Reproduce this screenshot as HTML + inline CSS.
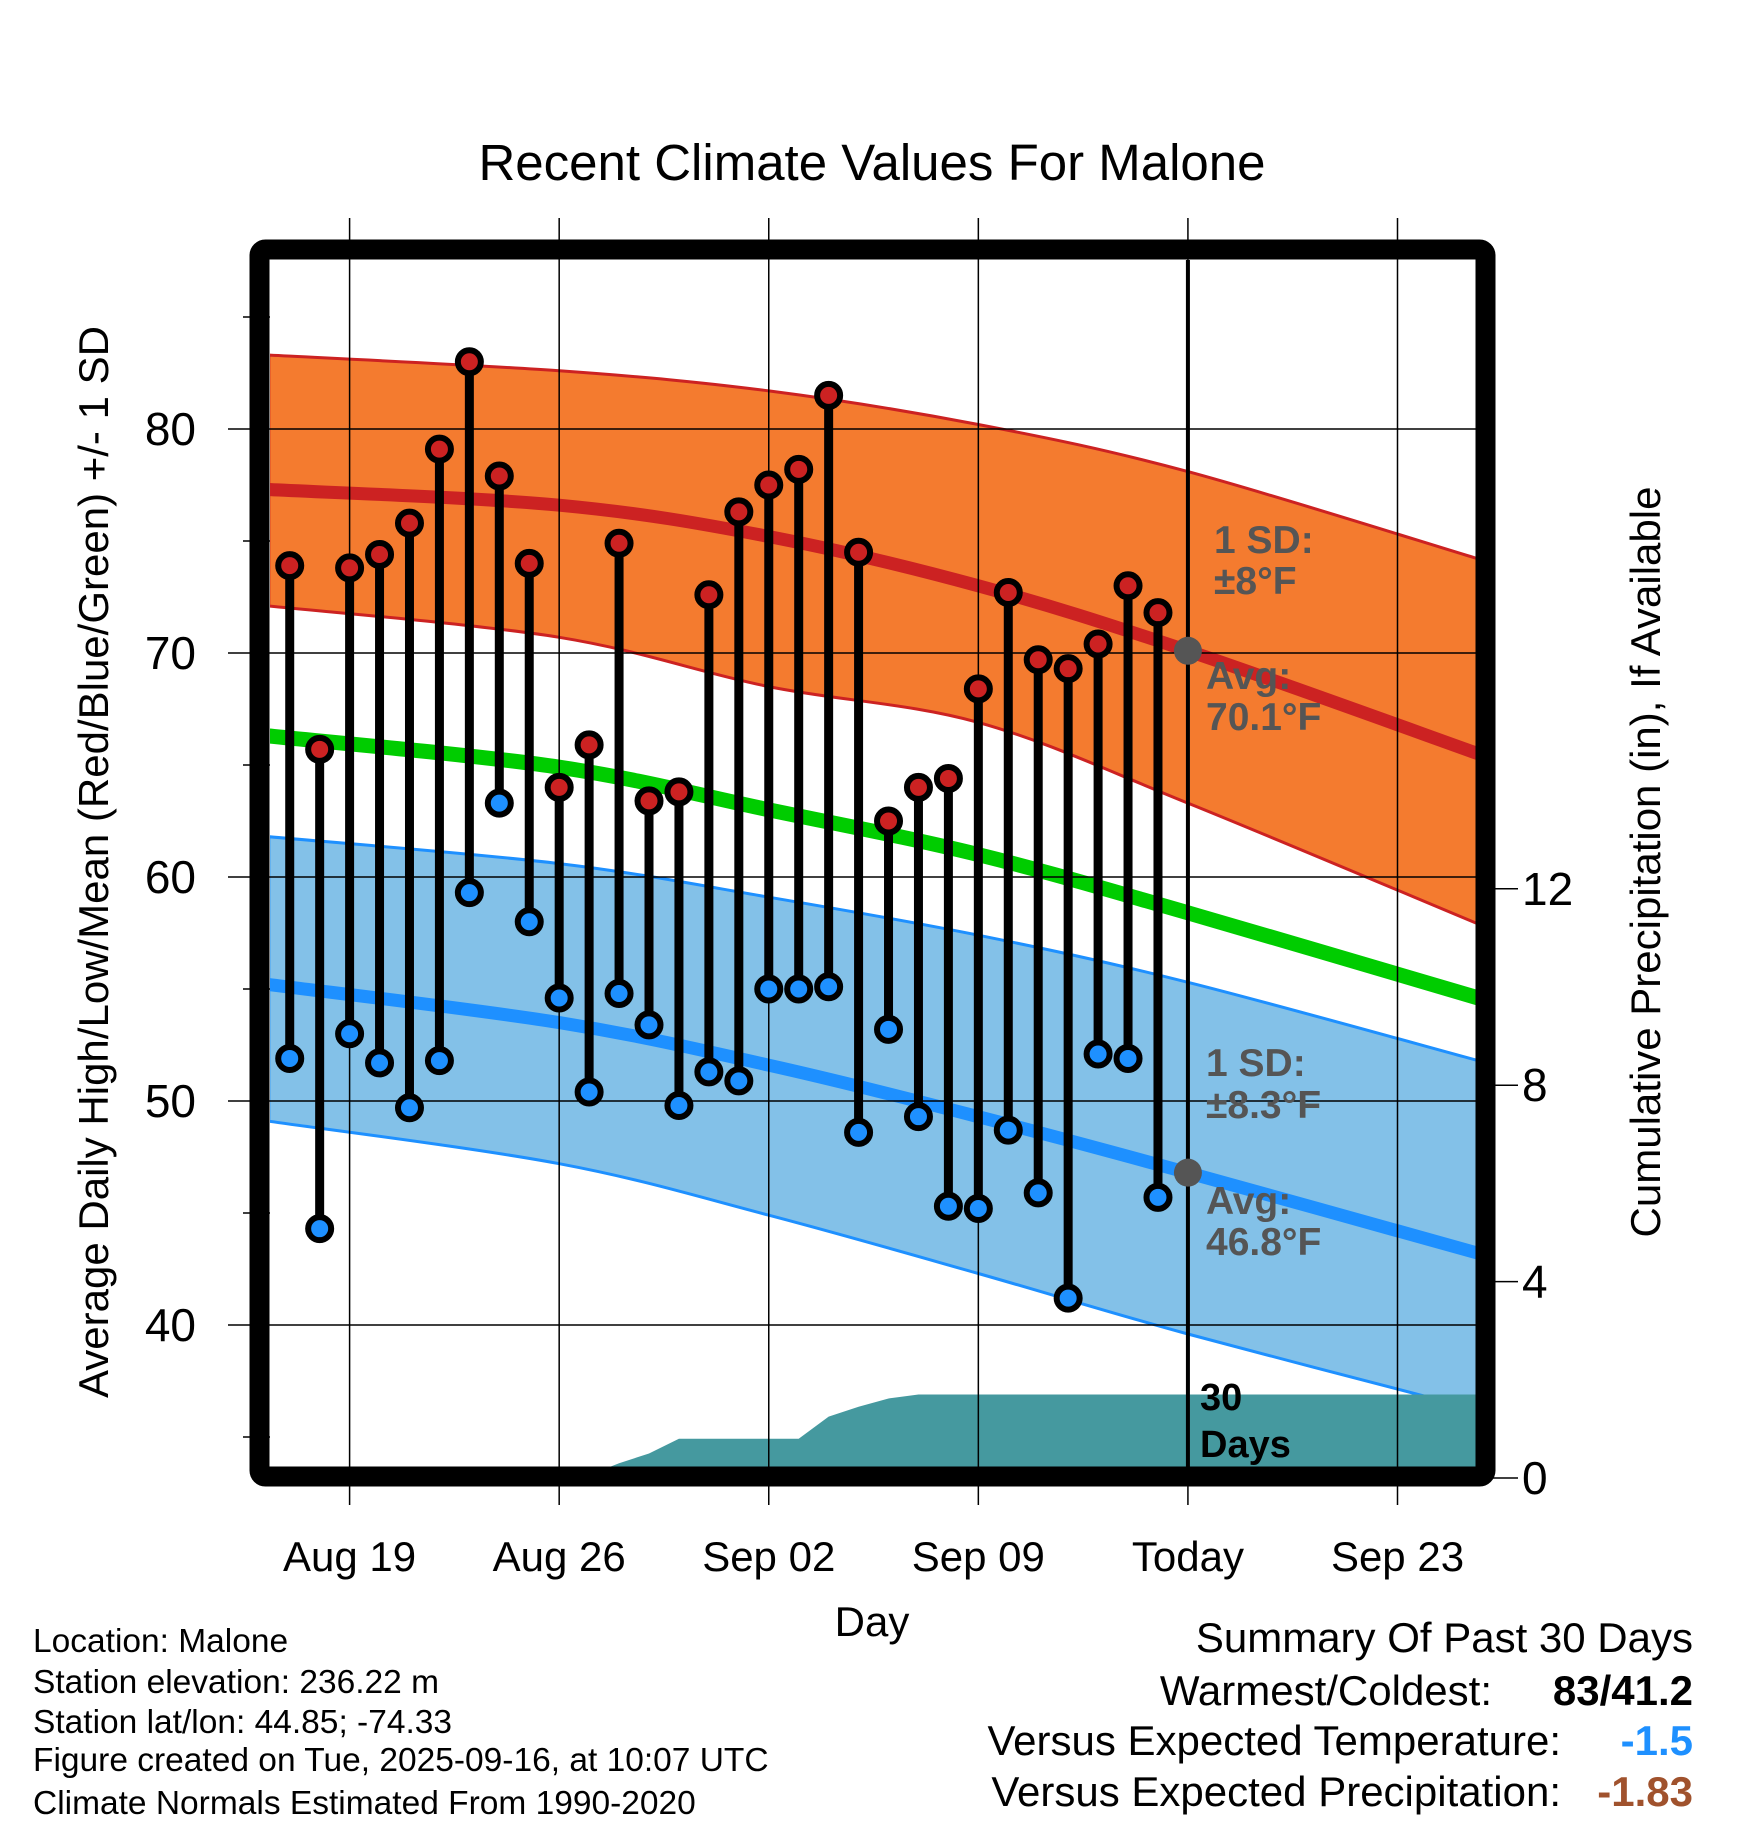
<!DOCTYPE html>
<html><head><meta charset="utf-8"><style>
html,body{margin:0;padding:0;background:#fff}
svg{display:block;font-family:"Liberation Sans",Arial,sans-serif}
</style></head><body>
<svg id="chart" width="1748" height="1828" viewBox="0 0 1748 1828" xmlns="http://www.w3.org/2000/svg">
<text x="872" y="180" font-size="51" text-anchor="middle">Recent Climate Values For Malone</text>
<g id="plot"></g>
<text x="872" y="1636" font-size="42" text-anchor="middle">Day</text>
<text transform="translate(108,862) rotate(-90)" font-size="42" text-anchor="middle">Average Daily High/Low/Mean (Red/Blue/Green) +/- 1 SD</text>
<text transform="translate(1660,862) rotate(-90)" font-size="42" text-anchor="middle">Cumulative Precipitation (in), If Available</text>
<g font-size="33.5">
<text x="33" y="1652">Location: Malone</text>
<text x="33" y="1693">Station elevation: 236.22 m</text>
<text x="33" y="1733">Station lat/lon: 44.85; -74.33</text>
<text x="33" y="1771">Figure created on Tue, 2025-09-16, at 10:07 UTC</text>
<text x="33" y="1814">Climate Normals Estimated From 1990-2020</text>
</g>
<g font-size="42" text-anchor="end">
<text x="1693" y="1652">Summary Of Past 30 Days</text>
<text x="1492" y="1705">Warmest/Coldest:</text>
<text x="1693" y="1705" font-weight="bold">83/41.2</text>
<text x="1561" y="1755">Versus Expected Temperature:</text>
<text x="1693" y="1755" font-weight="bold" fill="#1e90ff">-1.5</text>
<text x="1561" y="1806">Versus Expected Precipitation:</text>
<text x="1693" y="1806" font-weight="bold" fill="#a0522d">-1.83</text>
</g>
</svg>
<script>
// ---- data ----
const dayOffsets = [-2,-1,0,1,2,3,4,5,6,7,8,9,10,11,12,13,14,15,16,17,18,19,20,21,22,23,24,25,26,27];
const highs = [73.9,65.7,73.8,74.4,75.8,79.1,83.0,77.9,74.0,64.0,65.9,74.9,63.4,63.8,72.6,76.3,77.5,78.2,81.5,74.5,62.5,64.0,64.4,68.4,72.7,69.7,69.3,70.4,73.0,71.8];
const lows = [51.9,44.3,53.0,51.7,49.7,51.8,59.3,63.3,58.0,54.6,50.4,54.8,53.4,49.8,51.3,50.9,55.0,55.0,55.1,48.6,53.2,49.3,45.3,45.2,48.7,45.9,41.2,52.1,51.9,45.7];
const normDays = [-2.7,7,14,21,28,37.7];
const normHigh = [77.3,76.6,75.2,73.0,70.1,65.5];
const normHighUp = [83.3,82.6,81.7,80.2,78.1,74.2];
const normHighLo = [72.1,70.7,68.5,66.9,63.3,57.9];
const normMean = [66.3,64.9,63.0,61.0,58.4,54.6];
const normLow = [55.2,53.5,51.6,49.3,46.8,43.2];
const normLowUp = [61.8,60.6,59.1,57.4,55.3,51.8];
const normLowLo = [49.1,47.2,44.9,42.3,39.6,36.2];
const precipDays = [-2.7,5,5.5,8,9,10,11,12,13,14,15,16,17,18,19,37.7];
const precipVals = [0,0,0.06,0.06,0.3,0.5,0.8,0.8,0.8,0.8,0.8,1.25,1.45,1.62,1.7,1.7];
const xTickDays = [0,7,14,21,28,35];
const xTickLabels = ["Aug 19","Aug 26","Sep 02","Sep 09","Today","Sep 23"];
const yTicks = [40,50,60,70,80];
const y2Ticks = [0,4,8,12];

// ---- scales ----
const L=270,R=1477,T=260,B=1468;
const x = d => 349.6 + 29.94*d;
const y = v => 429 + (80 - v)*22.4;
const yp = v => 1478 - 49.1*v;
const NS="http://www.w3.org/2000/svg";
const plot=document.getElementById('plot');
function mk(tag,attrs,parent){const e=document.createElementNS(NS,tag);for(const k in attrs)e.setAttribute(k,attrs[k]);(parent||plot).appendChild(e);return e;}
function pts(ds,vs){return ds.map((d,i)=>[x(d),y(vs[i])]);}
function smooth(p,move){let s=(move?'M':'L')+p[0][0].toFixed(1)+','+p[0][1].toFixed(1);
  for(let i=0;i<p.length-1;i++){const p0=p[i-1]||p[i],p1=p[i],p2=p[i+1],p3=p[i+2]||p2;
    const c1=[p1[0]+(p2[0]-p0[0])/6,p1[1]+(p2[1]-p0[1])/6],c2=[p2[0]-(p3[0]-p1[0])/6,p2[1]-(p3[1]-p1[1])/6];
    s+=` C${c1[0].toFixed(1)},${c1[1].toFixed(1)} ${c2[0].toFixed(1)},${c2[1].toFixed(1)} ${p2[0].toFixed(1)},${p2[1].toFixed(1)}`;}
  return s;}
function line(ds,vs){return smooth(pts(ds,vs),true);}
function band(ds,up,lo){return smooth(pts(ds,up),true)+' '+smooth(pts(ds,lo).reverse(),false)+' Z';}

const defs=mk('defs',{});
const cp=mk('clipPath',{id:'clip'},defs);mk('rect',{x:L,y:T,width:R-L,height:B-T},cp);
const g=mk('g',{'clip-path':'url(#clip)'});



let e;
e=mk('path',{d:band(normDays,normHighUp,normHighLo),fill:'#f47b2f',stroke:'#cc2222','stroke-width':3},g);

e=mk('path',{d:band(normDays,normLowUp,normLowLo),fill:'#83c1e8',stroke:'#1e90ff','stroke-width':3},g);

e=mk('path',{d:line(normDays,normHigh),fill:'none',stroke:'#cc2222','stroke-width':13},g);

e=mk('path',{d:line(normDays,normMean),fill:'none',stroke:'#00cc00','stroke-width':15},g);

e=mk('path',{d:line(normDays,normLow),fill:'none',stroke:'#1e90ff','stroke-width':13},g);

// precip
let pp='M'+x(precipDays[0])+','+B;
precipDays.forEach((d,i)=>pp+=' L'+x(d)+','+yp(precipVals[i]));
pp+=' L'+x(precipDays[precipDays.length-1])+','+B+' Z';
e=mk('path',{d:pp,fill:'#45999f'},g);


// grid
xTickDays.forEach((d,i)=>{
  e=mk('line',{x1:x(d),x2:x(d),y1:218,y2:1505,stroke:'#000','stroke-width':1.5});
  
  e=mk('text',{x:x(d),y:1571,'font-size':42,'text-anchor':'middle'});e.textContent=xTickLabels[i];
  
});
for(let v=35;v<=85;v+=5){
  const major=v%10===0;
  e=mk('line',{x1:major?228:243,x2:major?R:L,y1:y(v),y2:y(v),stroke:'#000','stroke-width':1.5});
  
}
yTicks.forEach(v=>{e=mk('text',{x:196,y:y(v)+16,'font-size':46,'text-anchor':'end'});e.textContent=v;
  });
y2Ticks.forEach(v=>{
  e=mk('line',{x1:R,x2:1518,y1:yp(v),y2:yp(v),stroke:'#000','stroke-width':1.5});
  
  e=mk('text',{x:1522,y:yp(v)+16,'font-size':46});e.textContent=v;
  
});

// annotations
const ann=[["1 SD:",1214,553],["±8°F",1214,594],["Avg:",1206,689],["70.1°F",1206,730],["1 SD:",1206,1076],["±8.3°F",1206,1118],["Avg:",1206,1214],["46.8°F",1206,1255]];
ann.forEach(a=>{e=mk('text',{x:a[1],y:a[2],'font-size':39,'font-weight':'bold',fill:'#555'});e.textContent=a[0];
  });
e=mk('text',{x:1200,y:1410,'font-size':38,'font-weight':'bold'});e.textContent='30';

e=mk('text',{x:1200,y:1457,'font-size':38,'font-weight':'bold'});e.textContent='Days';


// today line
e=mk('line',{x1:x(28),x2:x(28),y1:T,y2:B,stroke:'#000','stroke-width':4});

e=mk('circle',{cx:x(28),cy:y(70.1),r:14,fill:'#555'});

e=mk('circle',{cx:x(28),cy:y(46.8),r:14,fill:'#555'});


// stems and dots
dayOffsets.forEach((d,i)=>{
  e=mk('line',{x1:x(d),x2:x(d),y1:y(highs[i]),y2:y(lows[i]),stroke:'#000','stroke-width':9});
  
  e=mk('circle',{cx:x(d),cy:y(highs[i]),r:11.5,fill:'#cc2222',stroke:'#000','stroke-width':6});
  
  e=mk('circle',{cx:x(d),cy:y(lows[i]),r:11.5,fill:'#1e90ff',stroke:'#000','stroke-width':6});
  
});

// frame
e=mk('rect',{x:259.5,y:249.5,width:1226,height:1227,fill:'none',stroke:'#000','stroke-width':20,rx:6});

</script>
</body></html>
